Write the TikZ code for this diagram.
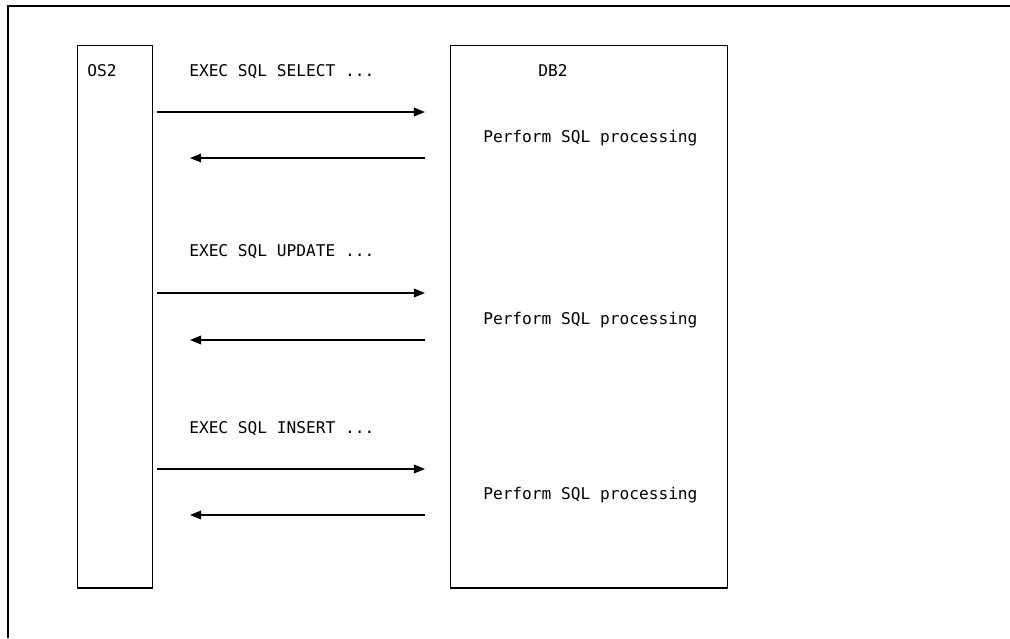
\documentclass[tikz,border=0pt]{standalone}
\usepackage{fontspec}
\setmonofont{DejaVu Sans Mono}
\usetikzlibrary{arrows.meta,positioning}

\begin{document}
\begin{tikzpicture}[
      x=0.025cm, y=-0.025cm,
      font=\ttfamily\fontsize{11.5}{14}\selectfont,
      >={Triangle[length=2.8mm, width=2.2mm]},
      hostbox/.style={draw, line width=1pt, anchor=north west, inner sep=0pt,
                  minimum height=13.55cm},
      lbl/.style={anchor=base west, inner sep=0pt},
      msg/.style={->, line width=0.8pt},
    ]

    % ---------- marco ----------
    \useasboundingbox (0,0) rectangle (1010,638);
    \draw[line width=1.2pt] (8,638) -- (8,6) -- (1010,6);

    % ---------- cajas ----------
    \node[hostbox, minimum width=1.875cm] (os2) at (77,45) {};
    \node[hostbox, minimum width=6.925cm] (db2) at (450,45) {};

    \node[anchor=base, inner sep=0pt] (os2name) at (102,76) {OS2};
    \node[anchor=base, inner sep=0pt] (db2name) at (553,76) {DB2};

    % ---------- mensajes ----------
    \node[lbl] (q1) at (189,76)  {EXEC SQL SELECT ...};
    \node[lbl] (q2) at (189,256) {EXEC SQL UPDATE ...};
    \node[lbl] (q3) at (189,433) {EXEC SQL INSERT ...};

    \node[lbl] (p1) at (483,142) {Perform SQL processing};
    \node[lbl] (p2) at (483,324) {Perform SQL processing};
    \node[lbl] (p3) at (483,499) {Perform SQL processing};

    \coordinate (a1) at (157,112);  \coordinate (b1) at (425,112);
    \coordinate (c1) at (425,158);  \coordinate (d1) at (190,158);
    \coordinate (a2) at (157,293);  \coordinate (b2) at (425,293);
    \coordinate (c2) at (425,340);  \coordinate (d2) at (190,340);
    \coordinate (a3) at (157,469);  \coordinate (b3) at (425,469);
    \coordinate (c3) at (425,515);  \coordinate (d3) at (190,515);

    \foreach \i in {1,2,3} {
      \draw[msg] (a\i) -- (b\i);
      \draw[msg] (c\i) -- (d\i);
    }

  \end{tikzpicture}
\end{document}
